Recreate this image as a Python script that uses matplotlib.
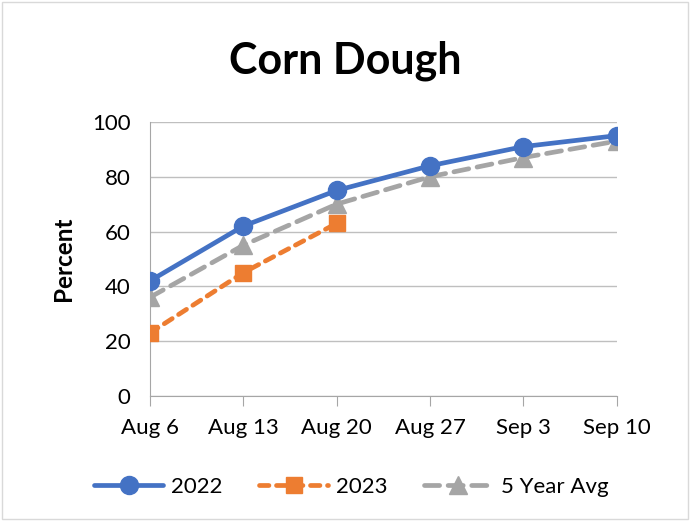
import matplotlib
matplotlib.use("Agg")
import matplotlib.pyplot as plt
from matplotlib.patches import Rectangle

categories = ["Aug 6", "Aug 13", "Aug 20", "Aug 27", "Sep 3", "Sep 10"]
y2022 = [42, 62, 75, 84, 91, 95]
y2023 = [23, 45, 63]
yavg = [36, 55, 70, 80, 87, 93]
yticks = [0, 20, 40, 60, 80, 100]

plt.rcParams['font.family'] = ['Lato', 'DejaVu Sans']

fig = plt.figure(figsize=(6.9, 5.21), dpi=100)
fig.patches.append(Rectangle((0.003, 0.003), 0.994, 0.994, transform=fig.transFigure,
                             fill=False, edgecolor='#D9D9D9', linewidth=1))
ax = fig.add_axes([0.2174, 0.240, 0.894 - 0.2174, 0.526])

x = list(range(len(categories)))
ax.plot(x, y2022, color='#4472C4', linewidth=3.4, marker='o', markersize=13, label='2022',
        solid_capstyle='round', zorder=5)
ax.plot(x[:len(y2023)], y2023, color='#ED7D31', linewidth=3.4, linestyle=(0, (2.0, 1.6)),
        marker='s', markersize=12, label='2023', dash_capstyle='round', zorder=4)
ax.plot(x, yavg, color='#A5A5A5', linewidth=3.4, linestyle=(0, (3.2, 1.8)),
        marker='^', markersize=13, label='5 Year Avg', dash_capstyle='round', zorder=3)

ax.set_xlim(0, len(categories) - 1)
ax.set_ylim(0, 100)
ax.set_yticks(yticks)
ax.set_xticks(x)
ax.set_xticklabels(categories)
ax.grid(axis='y', color='#BFBFBF', linewidth=1)
ax.set_axisbelow(True)
for s in ['top', 'right']:
    ax.spines[s].set_visible(False)
ax.spines['left'].set_color('#A6A6A6')
ax.spines['bottom'].set_color('#A6A6A6')
ax.tick_params(axis='y', length=0, labelsize=16, pad=14)
ax.tick_params(axis='x', length=7, color='#A6A6A6', labelsize=16, pad=9)
ax.set_ylabel('Percent', fontsize=17.5, fontweight='bold', labelpad=12)

fig.text(0.5, 0.883, 'Corn Dough', ha='center', va='center', fontsize=31, fontweight='bold')

leg = fig.legend(loc='center', bbox_to_anchor=(0.509, 0.065), ncol=3, frameon=False,
                 fontsize=16, handlelength=3.1, columnspacing=1.65, handletextpad=0.35)

fig.savefig('out.png', dpi=100)
